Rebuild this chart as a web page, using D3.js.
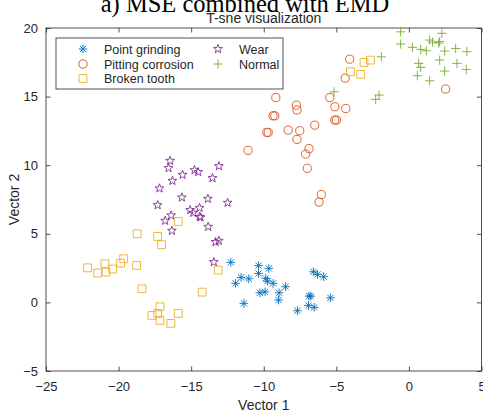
<!DOCTYPE html>
<html>
<head>
<meta charset="utf-8">
<script src="https://cdn.jsdelivr.net/npm/d3@7"></script>
<style>
  body { margin: 0; background: #fff; }
  svg text { font-family: "Liberation Sans", Arial, sans-serif; fill: #262626; }
</style>
</head>
<body>
<div id="chart"></div>
<script>
// class names, in legend order
var classNames = ["Point grinding", "Pitting corrosion", "Broken tooth", "Wear", "Normal"];

// t-sne points, [vector1, vector2]
var pointGrinding = [
  [-12.27, 2.92], [-11.94, 1.39], [-11.56, 1.82], [-11.03, 1.72], [-10.36, 2.68],
  [-10.36, 2.11], [-9.65, 2.48], [-9.86, 1.75], [-9.74, 1.55], [-9.36, 1.39],
  [-8.50, 1.14], [-10.27, 0.70], [-9.91, 0.77], [-8.94, 0.70], [-8.98, 0.17],
  [-11.37, -0.07], [-7.68, -0.61], [-6.88, 0.46], [-6.76, 0.46], [-6.92, -0.22],
  [-6.53, -0.36], [-6.58, 2.23], [-6.30, 2.04], [-5.87, 1.87], [-5.41, 0.33]
];
var pittingCorrosion = [
  [-4.08, 17.73], [-4.39, 16.35], [-9.17, 14.93], [-5.45, 14.93], [-7.75, 14.38],
  [-7.71, 14.02], [-5.10, 14.26], [-4.35, 14.13], [-9.36, 13.60], [-9.24, 13.60],
  [-6.49, 12.92], [-5.11, 13.29], [-4.99, 13.29], [-9.79, 12.39], [-9.69, 12.39],
  [-8.32, 12.56], [-7.52, 12.51], [-7.71, 11.88], [-11.08, 11.08], [-6.88, 11.21],
  [-7.11, 10.81], [-7.00, 9.77], [-6.03, 7.86], [-6.19, 7.31], [2.53, 15.55]
];
var brokenTooth = [
  [-22.13, 2.52], [-21.44, 2.14], [-20.94, 2.81], [-20.87, 2.21], [-20.41, 2.43],
  [-19.86, 2.86], [-19.65, 3.18], [-18.76, 2.70], [-18.72, 5.00], [-18.39, 0.99],
  [-17.31, 4.81], [-17.04, 4.20], [-15.89, 5.90], [-17.70, -0.95], [-17.31, -0.80],
  [-17.15, -0.32], [-17.15, -1.31], [-16.40, -1.53], [-15.89, -0.80], [-14.24, 0.75],
  [-13.14, 2.35], [-4.03, 16.81], [-3.32, 16.62], [-3.09, 17.49], [-2.65, 17.66]
];
var wear = [
  [-16.45, 10.32], [-16.56, 9.79], [-16.29, 8.86], [-17.18, 8.31], [-15.59, 9.30],
  [-14.77, 9.64], [-14.52, 9.50], [-13.09, 9.93], [-13.53, 9.06], [-17.31, 7.09],
  [-15.64, 7.65], [-13.85, 7.55], [-12.49, 7.26], [-15.07, 6.73], [-14.86, 6.53],
  [-14.42, 6.89], [-14.42, 6.24], [-14.35, 6.20], [-16.38, 6.34], [-16.79, 5.95],
  [-16.33, 5.22], [-13.83, 5.51], [-13.32, 4.40], [-13.09, 4.49], [-13.44, 2.94]
];
var normal = [
  [-0.57, 19.72], [-0.57, 18.83], [0.24, 18.59], [0.81, 18.44], [1.20, 18.34],
  [1.43, 19.12], [1.63, 18.97], [2.05, 18.90], [2.12, 19.01], [2.27, 19.61],
  [2.46, 18.32], [3.22, 18.51], [3.99, 18.27], [0.67, 17.42], [0.81, 17.13],
  [2.12, 17.66], [3.31, 17.42], [3.95, 16.98], [2.46, 16.86], [0.58, 16.52],
  [1.43, 16.15], [-1.90, 17.90], [-5.16, 15.35], [-2.06, 15.11], [-2.29, 14.80]
];

var xTicks = [-25, -20, -15, -10, -5, 0, 5];
var yTicks = [-5, 0, 5, 10, 15, 20];

var groups = [pointGrinding, pittingCorrosion, brokenTooth, wear, normal];
var colors = ["#0072BD", "#D95319", "#EDB120", "#7E2F8E", "#77AC30"];

// marker paths (centered on 0,0)
function markerPath(k) {
  var p = d3.path();
  if (k === 0) { // asterisk
    var a = 4.3, b = 3.1;
    p.moveTo(-a, 0); p.lineTo(a, 0);
    p.moveTo(0, -a); p.lineTo(0, a);
    p.moveTo(-b, -b); p.lineTo(b, b);
    p.moveTo(-b, b); p.lineTo(b, -b);
  } else if (k === 1) { // circle
    p.arc(0, 0, 4.1, 0, 2 * Math.PI);
  } else if (k === 2) { // square
    p.rect(-3.9, -3.9, 7.8, 7.8);
  } else if (k === 3) { // pentagram
    var ro = 4.6, ri = 1.9;
    for (var i = 0; i < 10; i++) {
      var r = i % 2 ? ri : ro;
      var ang = -Math.PI / 2 + i * Math.PI / 5;
      var x = r * Math.cos(ang), y = r * Math.sin(ang);
      if (i === 0) p.moveTo(x, y); else p.lineTo(x, y);
    }
    p.closePath();
  } else { // plus
    var c = 4.6;
    p.moveTo(-c, 0); p.lineTo(c, 0);
    p.moveTo(0, -c); p.lineTo(0, c);
  }
  return p.toString();
}

var svgWidth = 483, svgHeight = 413;
var margin = { top: 28, right: 1.5, bottom: 42, left: 46 };
var width = svgWidth - margin.left - margin.right;
var height = svgHeight - margin.top - margin.bottom;

var svg = d3.select("#chart").append("svg")
  .attr("width", svgWidth)
  .attr("height", svgHeight);

// figure title, cut off at the top edge like in the source figure
svg.append("text")
  .attr("x", 245)
  .attr("y", 11.5)
  .attr("text-anchor", "middle")
  .style("font-family", "'Liberation Serif', 'Times New Roman', serif")
  .style("font-size", "24.5px")
  .style("fill", "#000")
  .text("a) MSE combined with EMD");

var chartGroup = svg.append("g")
  .attr("transform", `translate(${margin.left}, ${margin.top})`);

var xScale = d3.scaleLinear().domain([-25, 5]).range([0, width]);
var yScale = d3.scaleLinear().domain([-5, 20]).range([height, 0]);

// axes with inward ticks on all four sides
function styleAxis(g) {
  g.select(".domain").remove();
  g.selectAll(".tick line").attr("stroke", "#262626").attr("stroke-width", 0.8);
  g.selectAll(".tick text").style("font-size", "13px").attr("fill", "#262626");
}

chartGroup.append("g")
  .attr("transform", `translate(0, ${height})`)
  .call(d3.axisBottom(xScale).tickValues(xTicks).tickSize(-4.5).tickPadding(11))
  .call(styleAxis);
chartGroup.append("g")
  .call(d3.axisTop(xScale).tickValues(xTicks).tickSize(-4.5).tickFormat(""))
  .call(styleAxis);
chartGroup.append("g")
  .call(d3.axisLeft(yScale).tickValues(yTicks).tickSize(-4.5).tickPadding(8))
  .call(styleAxis);
chartGroup.append("g")
  .attr("transform", `translate(${width}, 0)`)
  .call(d3.axisRight(yScale).tickValues(yTicks).tickSize(-4.5).tickFormat(""))
  .call(styleAxis);

// box
chartGroup.append("rect")
  .attr("width", width)
  .attr("height", height)
  .attr("fill", "none")
  .attr("stroke", "#262626")
  .attr("stroke-width", 0.8);

// points
groups.forEach(function (pts, k) {
  chartGroup.append("g")
    .selectAll("path")
    .data(pts)
    .enter()
    .append("path")
    .attr("transform", (d) => `translate(${xScale(d[0])}, ${yScale(d[1])})`)
    .attr("d", markerPath(k))
    .attr("fill", "none")
    .attr("stroke", colors[k])
    .attr("stroke-width", 0.9);
});

// subplot title
chartGroup.append("text")
  .attr("x", width / 2)
  .attr("y", -5)
  .attr("text-anchor", "middle")
  .style("font-size", "14px")
  .attr("fill", "#000")
  .text("T-sne visualization");

// axis labels
chartGroup.append("text")
  .attr("x", width / 2)
  .attr("y", height + 39)
  .attr("text-anchor", "middle")
  .style("font-size", "14px")
  .text("Vector 1");

chartGroup.append("text")
  .attr("transform", "rotate(-90)")
  .attr("x", -height / 2)
  .attr("y", -27)
  .attr("text-anchor", "middle")
  .style("font-size", "14px")
  .text("Vector 2");

// legend
var legend = svg.append("g").attr("transform", "translate(56, 38)");
legend.append("rect")
  .attr("width", 227)
  .attr("height", 51)
  .attr("fill", "#fff")
  .attr("stroke", "#262626")
  .attr("stroke-width", 0.8);

var legendPos = [[27, 11], [27, 26], [27, 40.5], [162, 11], [162, 26]];
classNames.forEach(function (name, k) {
  var item = legend.append("g")
    .attr("transform", `translate(${legendPos[k][0]}, ${legendPos[k][1]})`);
  item.append("path")
    .attr("d", markerPath(k))
    .attr("fill", "none")
    .attr("stroke", colors[k])
    .attr("stroke-width", 0.9);
  item.append("text")
    .attr("x", 21)
    .attr("y", 4.5)
    .style("font-size", "12.5px")
    .attr("fill", "#000")
    .text(name);
});
</script>
</body>
</html>
